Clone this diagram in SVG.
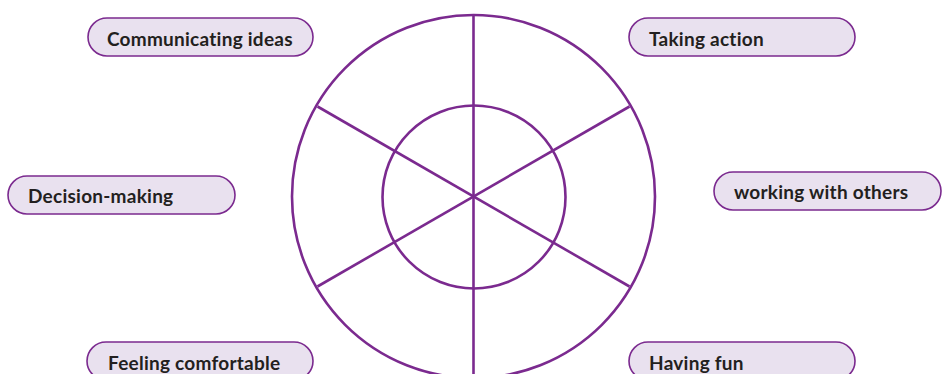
<svg xmlns="http://www.w3.org/2000/svg" width="947" height="374" viewBox="0 0 947 374">
<style>
.pill{fill:#E9E1EF;stroke:#7B2A8F;stroke-width:1.6}
.lbl{font-family:Lato,"Liberation Sans",sans-serif;font-weight:bold;font-size:19px;letter-spacing:0.25px;font-variant-ligatures:none;fill:#231F20}
.wheel{fill:none;stroke:#7B2A8F;stroke-width:2.6}
</style>
<rect width="947" height="374" fill="#fff"/>
<g id="connectors" class="wheel">
<line x1="473.5" y1="15" x2="473.5" y2="380"/>
<line x1="317.5" y1="106.5" x2="629.5" y2="286.5"/>
<line x1="629.5" y1="106.5" x2="317.5" y2="286.5"/>
</g>
<g id="wheel">
<circle class="wheel" cx="473.5" cy="196.5" r="181.5"/>
<circle class="wheel" cx="474" cy="197" r="91.5"/>
</g>
<g id="communicating">
<rect class="pill" x="88" y="18" width="225" height="38" rx="19"/>
<text class="lbl" x="107" y="46">Communicating ideas</text>
</g>
<g id="taking">
<rect class="pill" x="629" y="18" width="226" height="38" rx="19"/>
<text class="lbl" x="649" y="46">Taking action</text>
</g>
<g id="decision">
<rect class="pill" x="8" y="176" width="227" height="38" rx="19"/>
<text class="lbl" x="28" y="203">Decision-making</text>
</g>
<g id="working">
<rect class="pill" x="714" y="172" width="227" height="38" rx="19"/>
<text class="lbl" x="734" y="199">working with others</text>
</g>
<g id="feeling">
<rect class="pill" x="87" y="342" width="226" height="38" rx="19"/>
<text class="lbl" x="108" y="370">Feeling comfortable</text>
</g>
<g id="having">
<rect class="pill" x="629" y="342" width="226" height="38" rx="19"/>
<text class="lbl" x="649" y="370">Having fun</text>
</g>
</svg>
